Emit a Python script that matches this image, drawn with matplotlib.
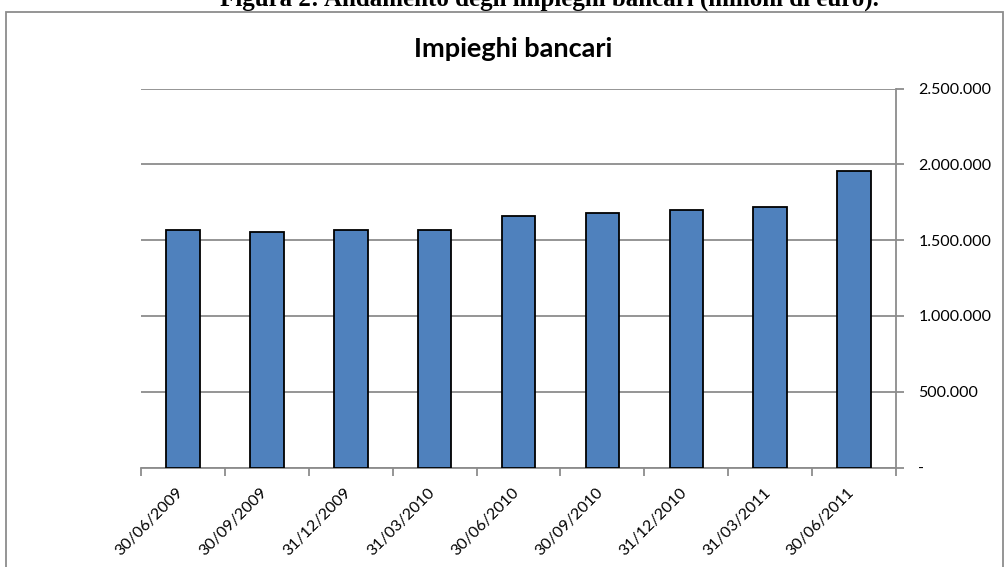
import matplotlib.pyplot as plt
from matplotlib.patches import Rectangle
from matplotlib.ticker import FuncFormatter
from matplotlib.transforms import ScaledTranslation

dates = ["30/06/2009", "30/09/2009", "31/12/2009", "31/03/2010", "30/06/2010",
         "30/09/2010", "31/12/2010", "31/03/2011", "30/06/2011"]
impieghi = [1566000, 1554000, 1566000, 1565000, 1656000,
            1679000, 1699000, 1721000, 1954000]
y_ticks = [0, 500000, 1000000, 1500000, 2000000, 2500000]

W, H = 1008, 567
fig = plt.figure(figsize=(W / 100, H / 100), dpi=100)
ax = fig.add_axes([141 / W, 1 - 467.5 / H, (896 - 141) / W, (467.5 - 88.5) / H])

x = list(range(len(dates)))
ax.bar(x, impieghi, width=0.4, color="#4F81BD", edgecolor="black", linewidth=1.3, zorder=3)

ax.set_xlim(-0.5, len(dates) - 0.5)
ax.set_ylim(0, 2500000)
ax.set_yticks(y_ticks)


def fmt(v, pos):
    if v == 0:
        return "-"
    return f"{int(v):,}".replace(",", ".")


ax.yaxis.set_major_formatter(FuncFormatter(fmt))
ax.yaxis.tick_right()
ax.grid(axis="y", color="#8c8c8c", linewidth=1.3, zorder=0)

# x ticks on category boundaries, labels at centers
ax.set_xticks([i - 0.5 for i in range(len(dates) + 1)])
ax.set_xticklabels([])
ax.set_xticks(x, minor=True)
ax.set_xticklabels(dates, minor=True, rotation=45, ha="right",
                   fontsize=11.5, family="Lato")
ax.tick_params(axis="x", which="minor", length=0, pad=13)
ax.tick_params(axis="x", which="major", length=6, width=1.3, color="#8c8c8c")
ax.tick_params(axis="y", length=6, width=1.3, color="#8c8c8c", pad=10,
               labelsize=11.5, labelfontfamily="Lato")
shift = ScaledTranslation(3 / 100, 0, fig.dpi_scale_trans)
for lbl in ax.get_xticklabels(minor=True):
    lbl.set_transform(lbl.get_transform() + shift)

for s in ["left", "top"]:
    ax.spines[s].set_visible(False)
for s in ["right", "bottom"]:
    ax.spines[s].set_color("#8c8c8c")
    ax.spines[s].set_linewidth(1.3)

fig.text(513 / W, 1 - 49 / H, "Impieghi bancari", ha="center", va="center",
         fontsize=19.5, fontweight="bold", family="Lato")

# caption cut by the top edge
fig.text(549 / W, 1 - 6 / H, "Figura 2: Andamento degli impieghi bancari (milioni di euro).",
         ha="center", va="baseline", fontsize=18, fontweight="bold", family="Liberation Serif")

fig.patches.append(Rectangle((6 / W, -0.1), (1003 - 6) / W, 1.1 - 12 / H,
                             transform=fig.transFigure, fill=False,
                             edgecolor="#8c8c8c", linewidth=1.3))

fig.savefig("out.png", dpi=100)
